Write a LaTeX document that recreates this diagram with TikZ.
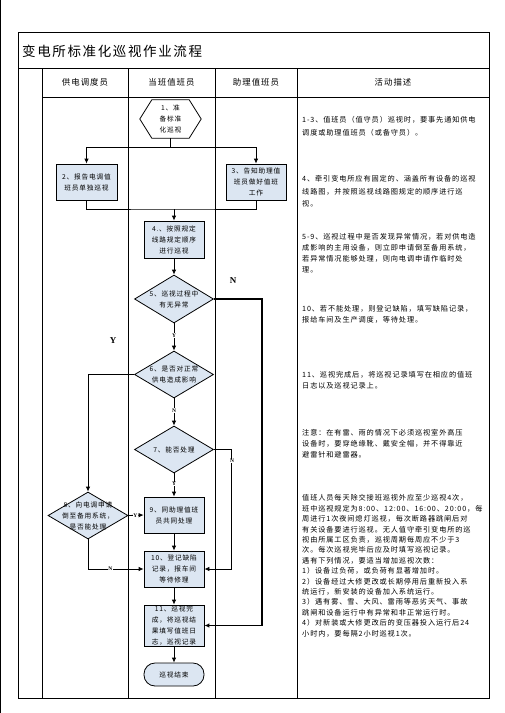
\documentclass[tikz,border=0pt]{standalone}
\usepackage{fontspec}
\setmainfont{Liberation Serif}
\newfontfamily\cjk[LetterSpace=12]{Noto Sans CJK SC}
\usetikzlibrary{arrows.meta,shapes.geometric}
\definecolor{boxblue}{RGB}{220,230,242}
\begin{document}
\begin{tikzpicture}[x=1pt,y=-1pt,
  gridline/.style={line width=0.8pt},
  procbox/.style={draw, line width=0.8pt, fill=boxblue, minimum width=60pt, minimum height=36pt, inner sep=0pt, align=center, font=\cjk\fontsize{6.7}{11}\selectfont},
  dia/.style={draw, line width=0.8pt, diamond, fill=boxblue, inner sep=0pt, minimum width=79pt, minimum height=47pt},
  dtxt/.style={align=center, inner sep=0pt, font=\cjk\fontsize{6.7}{11}\selectfont},
  arr/.style={-{Latex[length=5pt,width=4.5pt]}, line width=0.8pt},
  conn/.style={line width=0.8pt},
  lbl/.style={font=\bfseries\fontsize{5.5}{6}\selectfont, fill=white, inner sep=0.5pt},
  biglbl/.style={font=\bfseries\fontsize{9}{10}\selectfont, inner sep=0pt},
  hdr/.style={font=\cjk\fontsize{8.4}{10}\selectfont, inner sep=0pt},
  desc/.style={anchor=north west, align=left, inner sep=0pt, font=\cjk\fontsize{7.2}{11}\selectfont}
]
\useasboundingbox (0,0) rectangle (504,713);
\fill[white] (0,0) rectangle (504,713);
% page edge line
\draw[line width=0.8pt] (0.8,0) -- (0.8,713);
% table frame
\draw[gridline] (18,32) rectangle (489,698);
\draw[gridline] (18,68) -- (489,68);
\draw[gridline] (42,97) -- (489,97);
\foreach \xx in {42,128,215,297} {\draw[gridline] (\xx,68) -- (\xx,698);}
% title and headers
\node[anchor=west, inner sep=0pt, font=\cjk\fontsize{13.5}{16}\selectfont] (title) at (22,51) {变电所标准化巡视作业流程};
\node[hdr] (h1) at (85,82.5) {供电调度员};
\node[hdr] (h2) at (171.5,82.5) {当班值班员};
\node[hdr] (h3) at (256,82.5) {助理值班员};
\node[hdr] (h4) at (393,82.5) {活动描述};
% hexagon start
\node[minimum width=61pt, minimum height=38pt, inner sep=0pt] (n1) at (170.5,119) {};
\draw[line width=0.8pt, fill=white] ([xshift=12pt]n1.north west) -- ([xshift=-12pt]n1.north east) -- (n1.east) -- ([xshift=-12pt]n1.south east) -- ([xshift=12pt]n1.south west) -- (n1.west) -- cycle;
\node[align=center, inner sep=0pt, font=\cjk\fontsize{6.7}{11}\selectfont] (n1t) at (n1) {1、准\\备标准\\化巡视};
% boxes
\node[procbox, minimum width=61pt] (n2) at (86.5,182) {2、报告电调值\\班员单独巡视};
\node[procbox] (n3) at (256,182) {3、告知助理值\\班员做好值班\\工作};
\node[procbox, minimum height=37pt] (n4) at (174,239.5) {4.、按照规定\\线路规定顺序\\进行巡视};
\node[dia, minimum height=48pt] (d5) at (174,299) {};
\node[dtxt] (d5t) at (d5) {5、巡视过程中\\有无异常};
\node[dia] (d6) at (174,374.5) {};
\node[dtxt] (d6t) at (d6) {6、是否对正常\\供电造成影响};
\node[dia] (d7) at (174,449.5) {};
\node[dtxt] (d7t) at (d7) {7、能否处理};
\node[dia, minimum width=80pt] (d8) at (88,515.5) {};
\node[dtxt] (d8t) at (d8) {8、向电调申请\\倒至备用系统，\\是否能处理};
\node[procbox] (n9) at (174,515) {9、同助理值班\\员共同处理};
\node[procbox] (n10) at (174,569) {10、登记缺陷\\记录，报车间\\等待修理};
\node[procbox, minimum height=41pt, font=\cjk\fontsize{6.7}{10.8}\selectfont] (n11) at (174,625.5) {11、巡视完\\成，将巡视结\\果填写值班日\\志，巡视记录};
\node[draw, line width=0.8pt, fill=boxblue, rounded corners=11pt, minimum width=60pt, minimum height=23pt, inner sep=0pt, font=\cjk\fontsize{6.7}{11}\selectfont] (end) at (174,674.5) {巡视结束};
% junctions
\coordinate (j1) at (170.5,147);
\coordinate (j2) at (174,209);
\coordinate (c5) at (262,625.5);
\coordinate (c7) at (231,569);
% connectors
\draw[conn] (n1.south) -- (j1);
\draw[arr] (j1) -| (n2.north);
\draw[arr] (j1) -| (n3.north);
\draw[conn] (n2.south) |- (j2) -| (n3.south);
\draw[arr] (j2) -- (n4.north);
\draw[arr] (n4.south) -- (d5.north);
\draw[-{Latex[length=5pt,width=4.5pt]}, line width=1.6pt] (d5.east) -| (c5) -- (n11.east);
\draw[arr] (d5.south) -- node[lbl, pos=0.45] (ly1) {Y} (d6.north);
\draw[arr] (d6.west) -| (d8.north);
\draw[arr] (d6.south) -- node[lbl, pos=0.45] (ln1) {N} (d7.north);
\draw[arr] (d7.east) -| (c7) -- (n10.east);
\node[lbl] (ln2) at (232,461) {N};
\draw[arr] (d7.south) -- node[lbl, pos=0.45] (ly2) {Y} (n9.north);
\draw[arr] (d8.east) -- node[lbl, pos=0.45] (ly3) {Y} (n9.west);
\draw[arr] (d8.south) |- node[lbl, pos=0.7] (ln3) {N} (n10.west);
\draw[arr] (n9.south) -- (n10.north);
\draw[arr] (n10.south) -- (n11.north);
\draw[arr] (n11.south) -- (end.north);
\node[biglbl] (bigN) at (233,281) {N};
\node[biglbl] (bigY) at (113,341) {Y};
% descriptions
\node[desc, font=\cjk\fontsize{7.2}{12.5}\selectfont] (t1) at (302,116.6) {1-3、值班员（值守员）巡视时，要事先通知供电\\调度或助理值班员（或备守员）。};
\node[desc, font=\cjk\fontsize{7.2}{12.5}\selectfont] (t2) at (302,175.6) {4、牵引变电所应有固定的、涵盖所有设备的巡视\\线路图，并按照巡视线路图规定的顺序进行巡\\视。};
\node[desc] (t3) at (302,233.6) {5-9、巡视过程中是否发现异常情况，若对供电造\\成影响的主用设备，则立即申请倒至备用系统，\\若异常情况能够处理，则向电调申请作临时处\\理。};
\node[desc] (t4) at (302,305.6) {10、若不能处理，则登记缺陷，填写缺陷记录，\\报给车间及生产调度，等待处理。};
\node[desc] (t5) at (302,371.6) {11、巡视完成后，将巡视记录填写在相应的值班\\日志以及巡视记录上。};
\node[desc] (t6) at (302,429.6) {注意：在有雷、雨的情况下必须巡视室外高压\\设备时，要穿绝缘靴、戴安全帽，并不得靠近\\避雷针和避雷器。};
\node[desc, font=\cjk\fontsize{7.2}{10.4}\selectfont] (t7) at (302,494.6) {值班人员每天除交接班巡视外应至少巡视4次，\\班中巡视规定为8:00、12:00、16:00、20:00，每\\周进行1次夜间熄灯巡视，每次断路器跳闸后对\\有关设备要进行巡视。无人值守牵引变电所的巡\\视由所属工区负责，巡视周期每周应不少于3\\次。每次巡视完毕后应及时填写巡视记录。\\遇有下列情况，要适当增加巡视次数：\\1）设备过负荷，或负荷有显著增加时。\\2）设备经过大修更改或长期停用后重新投入系\\统运行，新安装的设备加入系统运行。\\3）遇有雾、雪、大风、雷雨等恶劣天气、事故\\跳闸和设备运行中有异常和非正常运行时。\\4）对新装或大修更改后的变压器投入运行后24\\小时内，要每隔2小时巡视1次。};
\end{tikzpicture}
\end{document}
